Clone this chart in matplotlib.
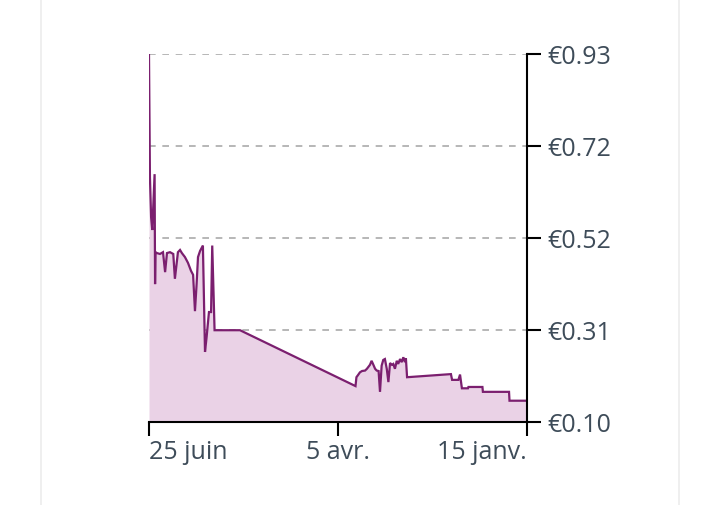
import numpy as np
import pandas as pd
import matplotlib
matplotlib.use("Agg")
import matplotlib.pyplot as plt
from matplotlib.lines import Line2D

# price series (days after 15 Jan 2024, price in EUR)
start_date = "2024-01-15"
day_offsets = [
    0.0, 7.5, 7.7, 18.9, 19.1, 25.1, 25.3, 27.9, 28.7, 29.4, 32.1, 32.6,
    51.4, 51.9, 52.3, 53.0, 53.7, 54.4, 55.2, 55.8, 56.6, 57.3, 57.9, 58.7,
    59.4, 60.1, 60.9, 61.6, 62.3, 63.0, 63.6, 64.4, 65.1, 66.0, 66.6, 67.3,
    68.6, 69.4, 70.7, 71.6, 72.4, 73.1, 73.5, 123.0, 133.9, 134.9, 135.4,
    136.3, 137.3, 138.0, 138.9, 140.1, 141.0, 141.6, 142.3, 143.1, 144.0,
    145.3, 146.6, 147.9, 148.7, 149.6, 150.9, 151.6, 153.0, 154.3, 155.1,
    156.0, 157.3, 158.6, 159.2, 159.4, 159.6, 160.6, 161.1, 161.6, 162.0,
]
prices = [
    0.148, 0.148, 0.168, 0.168, 0.179, 0.179, 0.176, 0.176, 0.207, 0.195, 0.195, 0.208,
    0.201, 0.244, 0.235, 0.246, 0.235, 0.242, 0.231, 0.238, 0.220, 0.231, 0.229, 0.233,
    0.190, 0.220, 0.242, 0.240, 0.227, 0.168, 0.215, 0.216, 0.220, 0.231, 0.238, 0.229,
    0.220, 0.216, 0.215, 0.212, 0.206, 0.201, 0.181, 0.307, 0.307, 0.498, 0.348,
    0.348, 0.292, 0.258, 0.498, 0.486, 0.472, 0.411, 0.350, 0.432, 0.441,
    0.459, 0.472, 0.481, 0.488, 0.483, 0.423, 0.479, 0.483, 0.481, 0.438,
    0.483, 0.479, 0.481, 0.483, 0.411, 0.659, 0.533, 0.562, 0.653, 0.930,
]

y_ticks = [0.10, 0.3075, 0.515, 0.7225, 0.93]
y_labels = ["€0.10", "€0.31", "€0.52", "€0.72", "€0.93"]
x_ticks = ["2024-01-15", "2024-04-05", "2024-06-25"]
x_labels = ["15 janv.", "5 avr.", "25 juin"]

line_color = "#7b1f6f"
fill_color = "#ead2e6"
text_color = "#3e4c59"

plt.rcParams["font.family"] = ["Open Sans", "DejaVu Sans"]

dates = pd.to_datetime(start_date) + pd.to_timedelta(day_offsets, unit="D")

fig = plt.figure(figsize=(7.2, 5.06), dpi=100)
ax = fig.add_axes([149 / 720, 83 / 506, 378 / 720, 368 / 506])

# card border
for xb in (41 / 720, 679 / 720):
    fig.add_artist(Line2D([xb, xb], [0, 1], transform=fig.transFigure,
                          color="#ececec", lw=1.2))

ax.fill_between(dates, prices, y_ticks[0], color=fill_color, lw=0)
ax.plot(dates, prices, color=line_color, lw=1.6, solid_joinstyle="miter")

ax.set_ylim(y_ticks[0], y_ticks[-1])
ax.set_xlim(pd.Timestamp(x_ticks[-1]), pd.Timestamp(x_ticks[0]))  # time runs right to left

for yv in y_ticks[1:]:
    ax.axhline(yv, color="#aaaaaa", lw=1.2, ls=(0, (4, 4)), zorder=0)

ax.yaxis.tick_right()
ax.set_yticks(y_ticks)
ax.set_yticklabels(y_labels)
ax.set_xticks(pd.to_datetime(x_ticks))
ax.set_xticklabels(x_labels)
for lbl, ha in zip(ax.get_xticklabels(), ["right", "center", "left"]):
    lbl.set_horizontalalignment(ha)

ax.tick_params(axis="both", direction="out", length=10, width=1.5,
               color="black", labelsize=18, labelcolor=text_color)
ax.tick_params(axis="y", pad=5)
ax.tick_params(axis="x", pad=2)

for side in ("left", "top"):
    ax.spines[side].set_visible(False)
for side in ("right", "bottom"):
    ax.spines[side].set_linewidth(1.5)
    ax.spines[side].set_color("black")

fig.savefig("out.png", dpi=100)
